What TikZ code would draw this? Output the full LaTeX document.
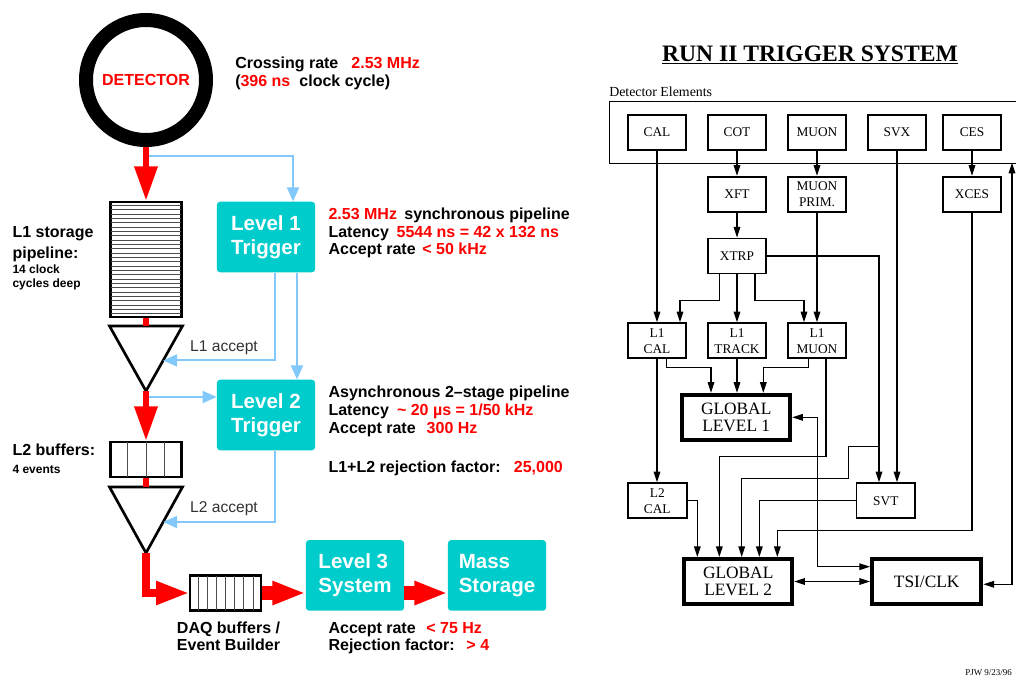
\documentclass[tikz,border=0pt]{standalone}
\usepackage{fontspec}
\setmainfont{Liberation Serif}
\newfontfamily\hvfont{Liberation Sans}
\usetikzlibrary{arrows.meta,calc}
\definecolor{rd}{RGB}{255,0,0}
\definecolor{tealbx}{RGB}{0,204,204}
\definecolor{lblue}{RGB}{130,200,250}
\definecolor{dgray}{RGB}{50,50,50}
\begin{document}
\begin{tikzpicture}[x=0.75pt,y=-0.75pt,
  sanstxt/.style={font=\hvfont\bfseries\fontsize{12}{14}\selectfont, inner sep=0pt},
  smalltxt/.style={font=\hvfont\bfseries\fontsize{9}{11}\selectfont, inner sep=0pt},
  acctxt/.style={font=\hvfont\fontsize{11.7}{14}\selectfont, text=dgray, inner sep=0pt},
  tealbox/.style={fill=tealbx, rounded corners=2.5pt, minimum width=73.7pt, minimum height=53pt, inner sep=0pt, text=white, align=left, font=\hvfont\bfseries\fontsize{15.4}{18}\selectfont},
  redline/.style={draw=rd, line width=5pt},
  redarr/.style={draw=rd, line width=5pt, -{Triangle[length=26pt,width=16.5pt]}},
  redarrL/.style={draw=rd, line width=6pt, -{Triangle[length=25pt,width=16.5pt]}},
  redblock/.style={draw=rd, line width=11pt, -{Triangle[length=25pt,width=16.5pt]}},
  bluearr/.style={draw=lblue, line width=1.5pt, -{Triangle[length=10.5pt,width=9pt]}},
  buffer/.style={draw, line width=1.6pt, inner sep=0pt},
  funnel/.style={draw, line width=2pt, line join=miter},
  cell/.style={draw=black!70, line width=0.6pt},
  elbox/.style={draw, line width=1.4pt, minimum width=43.5pt, minimum height=26.25pt, inner sep=0pt, align=center, font=\fontsize{10}{12}\selectfont},
  glbox/.style={draw, line width=3pt, minimum width=81pt, minimum height=33.75pt, inner sep=0pt, align=center, font=\fontsize{13}{13.2}\selectfont},
  conn/.style={draw, line width=0.8pt, -{Triangle[length=8pt,width=5pt]}},
  bconn/.style={draw, line width=0.8pt, {Triangle[length=8pt,width=5pt]}-{Triangle[length=8pt,width=5pt]}},
]
\useasboundingbox (0,0) rectangle (1016,679);

% ================= LEFT =================
\node[circle, draw, line width=10.5pt, minimum size=90pt, inner sep=0pt, text=rd, font=\hvfont\bfseries\fontsize{12}{14}\selectfont] (det) at (146,80) {DETECTOR};
\node[sanstxt, anchor=base west] (cr1) at (235,68.3) {Crossing rate\hspace{9.75pt}\textcolor{rd}{2.53 MHz}};
\node[sanstxt, anchor=base west] (cr2) at (235,86) {(\textcolor{rd}{396 ns}\hspace{6.75pt}clock cycle)};

\node[buffer, minimum width=53.25pt, minimum height=86.25pt] (pipe) at (146,259.5) {};
\foreach \i in {1,...,26} \draw[cell] (111,{201+\i*117/27}) -- (181,{201+\i*117/27});
\coordinate (t1l) at (109.5,326); \coordinate (t1r) at (182.5,326); \coordinate (t1a) at (146,391);
\draw[funnel] (t1l) -- (t1r) -- (t1a) -- cycle;

\node[buffer, minimum width=53.25pt, minimum height=26.25pt] (buf2) at (146,459.5) {};
\foreach \k in {1,2,3} \draw[cell] ({109.5+\k*73/4},442) -- ({109.5+\k*73/4},477);
\coordinate (t2l) at (109.5,487); \coordinate (t2r) at (182.5,487); \coordinate (t2a) at (146,553);
\draw[funnel] (t2l) -- (t2r) -- (t2a) -- cycle;

\node[buffer, minimum width=53pt, minimum height=26.25pt] (daq) at (225.75,593) {};
\foreach \k in {1,...,7} \draw[cell] ({189.5+\k*72.5/8},576) -- ({189.5+\k*72.5/8},610);

\node[tealbox] (L1) at (266,237) {Level 1\\Trigger};
\node[tealbox] (L2) at (266,415) {Level 2\\Trigger};
\node[tealbox] (L3) at (355,575.4) {Level 3\\System};
\node[tealbox] (MS) at (497,575.4) {Mass\\Storage};

% blue trigger lines
\coordinate (b0) at (146,156);
\draw[bluearr] (b0) -| ($(L1.north)+(27,0)$);
\coordinate (acc1) at ($(t1r)!0.53!(t1a)$);
\draw[bluearr] ($(L1.south)+(9,0)$) |- (acc1);
\draw[bluearr] ($(L1.south)+(31,0)$) -- ($(L2.north)+(31,0)$);
\coordinate (b2) at (146,397);
\draw[bluearr] (b2) -- (b2 -| L2.west);
\coordinate (acc2) at ($(t2r)!0.53!(t2a)$);
\draw[bluearr] ($(L2.south)+(9,0)$) |- (acc2);

% red data flow
\draw[redarr] (det.south) -- (pipe.north);
\draw[redline] (pipe.south) -- (pipe.south |- t1l);
\draw[redarr] (t1a) -- (buf2.north);
\draw[redline] (buf2.south) -- (buf2.south |- t2l);
\draw[redarrL] (t2a) |- (daq.west);
\draw[redblock] (daq.east) -- (daq.east -| L3.west);
\draw[redblock] (L3.east |- daq.east) -- (MS.west |- daq.east);

\node[acctxt] (lacc1) at (224,348) {L1 accept};
\node[acctxt] (lacc2) at (224,509) {L2 accept};

\node[sanstxt, anchor=base west] (lsp1) at (12.3,237.3) {L1 storage};
\node[sanstxt, anchor=base west] (lsp2) at (12.3,258.3) {pipeline:};
\node[smalltxt, anchor=base west] (lsp3) at (12.3,273.3) {14 clock};
\node[smalltxt, anchor=base west] (lsp4) at (12.3,287.3) {cycles deep};
\node[sanstxt, anchor=base west] (lb1) at (12.3,455.5) {L2 buffers:};
\node[smalltxt, anchor=base west] (lb2) at (12.3,473) {4 events};

\node[sanstxt, anchor=base west] (i11) at (328.3,219.5) {\textcolor{rd}{2.53 MHz}\hspace{5.5pt}synchronous pipeline};
\node[sanstxt, anchor=base west] (i12) at (328.3,237) {Latency\hspace{5.7pt}\textcolor{rd}{5544 ns = 42 x 132 ns}};
\node[sanstxt, anchor=base west] (i13) at (328.3,254.5) {Accept rate\hspace{5pt}\textcolor{rd}{< 50 kHz}};
\node[sanstxt, anchor=base west] (i21) at (328.3,397.3) {Asynchronous 2\textendash stage pipeline};
\node[sanstxt, anchor=base west] (i22) at (328.3,415.5) {Latency\hspace{6pt}\textcolor{rd}{\textasciitilde{} 20 µs = 1/50 kHz}};
\node[sanstxt, anchor=base west] (i23) at (328.3,433.3) {Accept rate\hspace{8.25pt}\textcolor{rd}{300 Hz}};
\node[sanstxt, anchor=base west] (i24) at (328.3,472.5) {L1+L2 rejection factor:\hspace{10pt}\textcolor{rd}{25,000}};
\node[sanstxt, anchor=base west] (i31) at (328.3,633.3) {Accept rate\hspace{8pt}\textcolor{rd}{< 75 Hz}};
\node[sanstxt, anchor=base west] (i32) at (328.3,650.7) {Rejection factor:\hspace{8.75pt}\textcolor{rd}{> 4}};
\node[sanstxt, anchor=base west] (dq1) at (176.7,633.3) {DAQ buffers /};
\node[sanstxt, anchor=base west] (dq2) at (176.7,650.7) {Event Builder};

% ================= RIGHT =================
\node[font=\bfseries\fontsize{17.7}{20}\selectfont, inner sep=0pt, anchor=base] (title) at (810,61) {\underline{RUN II TRIGGER SYSTEM}};
\node[font=\fontsize{10.4}{12}\selectfont, inner sep=0pt, anchor=base west] (detel) at (609,96.7) {Detector Elements};
\node[draw, line width=0.75pt, minimum width=310pt, minimum height=46.3pt, inner sep=0pt, anchor=north west] (delems) at (608.5,101) {};

\node[elbox] (CAL) at (657,132.5) {CAL};
\node[elbox] (COT) at (737,132.5) {COT};
\node[elbox] (MUON) at (817,132.5) {MUON};
\node[elbox] (SVX) at (897,132.5) {SVX};
\node[elbox] (CES) at (972,132.5) {CES};
\node[elbox] (XFT) at (737,194.2) {XFT};
\node[elbox] (MPRIM) at (817,194.2) {MUON\\PRIM.};
\node[elbox] (XCES) at (972,194.2) {XCES};
\node[elbox] (XTRP) at (737,256) {XTRP};
\node[elbox] (L1CAL) at (657,340.7) {L1\\CAL};
\node[elbox] (L1TRK) at (737,340.7) {L1\\TRACK};
\node[elbox] (L1MU) at (817,340.7) {L1\\MUON};
\node[glbox] (GL1) at (736.2,417.3) {GLOBAL\\LEVEL 1};
\node[elbox, minimum width=44pt] (L2CAL) at (657.3,500.7) {L2\\CAL};
\node[elbox, minimum width=44pt] (SVT) at (885.8,500.7) {SVT};
\node[glbox] (GL2) at (738.2,581.5) {GLOBAL\\LEVEL 2};
\node[glbox, minimum width=82pt] (TSI) at (926.7,581.5) {TSI/CLK};

\draw[conn] (COT.south) -- (XFT.north);
\draw[conn] (MUON.south) -- (MPRIM.north);
\draw[conn] (CES.south) -- (XCES.north);
\draw[conn] (XFT.south) -- (XTRP.north);
\draw[conn] (CAL.south) -- (L1CAL.north);
\draw[conn] ($(XTRP.south)+(-17.7,0)$) -- ++(0,25.7) -| ($(L1CAL.north)+(23,0)$);
\draw[conn] (XTRP.south) -- (L1TRK.north);
\draw[conn] ($(XTRP.south)+(18,0)$) -- ++(0,25.7) -| ($(L1MU.north)+(-13,0)$);
\draw[conn] (MPRIM.south) -- (L1MU.north);
\draw[conn] (XTRP.east) -| ($(SVT.north)+(-6.8,0)$);
\draw[conn] (SVX.south) -- (SVX.south |- SVT.north);
\coordinate (br1) at (879,446.7);
\coordinate (br2) at (848.3,478.3);
\draw[conn] (br1) -| (br2) -| ($(GL2.north)+(3.5,0)$);
\draw[conn] ($(L1CAL.south)+(9.7,0)$) -- ++(0,8.7) -| ($(GL1.north)+(-25.2,0)$);
\draw[conn] (L1TRK.south) -- (L1TRK.south |- GL1.north);
\draw[conn] ($(L1MU.south)+(-8.7,0)$) -- ++(0,8.7) -| ($(GL1.north)+(27.1,0)$);
\draw[conn] (L1CAL.south) -- (L1CAL.south |- L2CAL.north);
\draw[conn] ($(L1MU.south)+(9,0)$) -- ++(0,97) -| ($(GL2.north)+(-18.9,0)$);
\draw[conn] (L2CAL.east) -| ($(GL2.north)+(-40.9,0)$);
\draw[conn] (SVT.west) -| ($(GL2.north)+(21.1,0)$);
\draw[conn] (XCES.south) -- ($(XCES.south |- GL2.north)+(0,-26.3)$) -| ($(GL2.north)+(39.1,0)$);
\draw[bconn] (GL1.east) -- ++(25,0) |- ($(TSI.west)+(0,-14.8)$);
\draw[bconn] (GL2.east) -- (GL2.east -| TSI.west);
\coordinate (tsiup) at (1012,162.7);
\draw[bconn] ($(TSI.east)+(0,2.8)$) -| (tsiup);
\node[font=\fontsize{6.7}{8}\selectfont, inner sep=0pt, anchor=base east] (pjw) at (1012,675) {PJW 9/23/96};
\end{tikzpicture}
\end{document}
